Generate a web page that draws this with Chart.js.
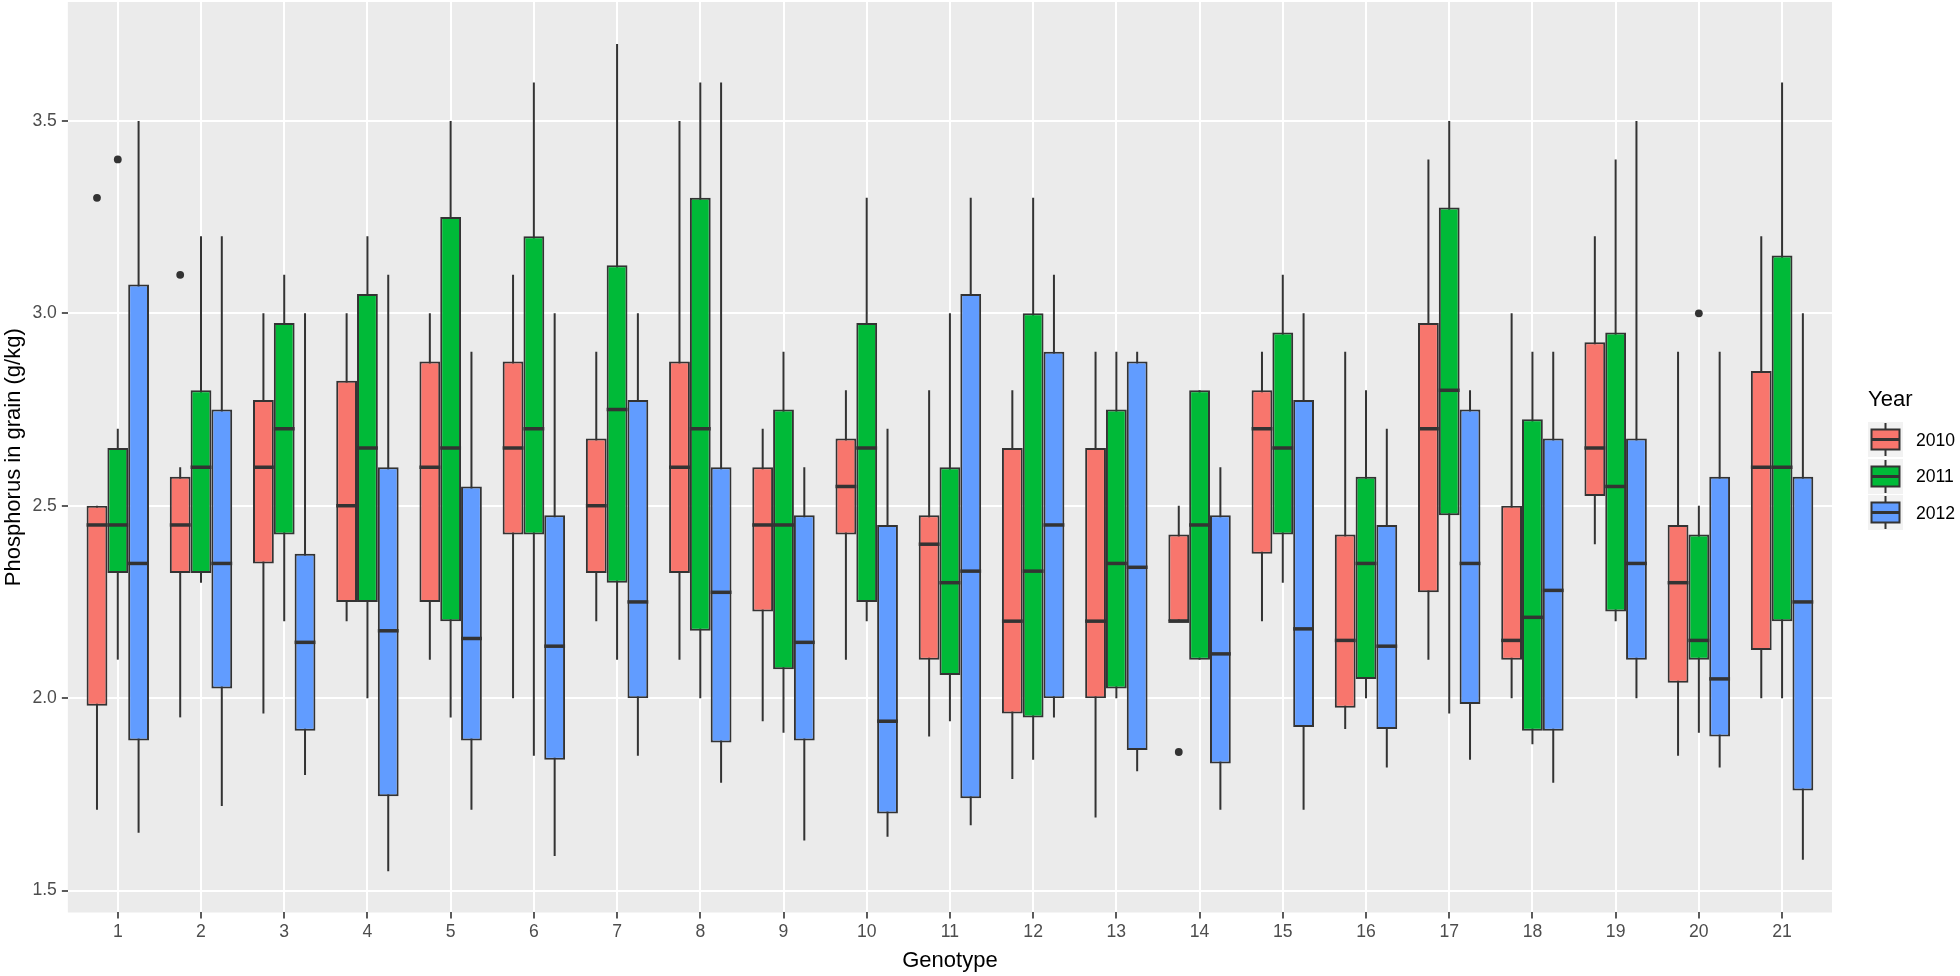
<!DOCTYPE html>
<html><head><meta charset="utf-8">
<script src="https://cdn.jsdelivr.net/npm/chart.js@4"></script>
<style>
html,body{margin:0;padding:0;background:#fff;}
#wrap{position:relative;width:1960px;height:976px;overflow:hidden;}
#c{position:absolute;left:0;top:0;}
.lg{position:absolute;font-family:"Liberation Sans",Arial,sans-serif;white-space:nowrap;}
</style></head>
<body>
<div id="wrap"><canvas id="c" width="1960" height="976"></canvas></div>
<script>
const genotypes = [1,2,3,4,5,6,7,8,9,10,11,12,13,14,15,16,17,18,19,20,21];
const years = ['2010','2011','2012'];
const yTicks = [1.5,1.75,2.0,2.25,2.5,2.75,3.0,3.25,3.5,3.75];

// 2010
const low2010 = [1.71,1.95,1.96,2.20,2.10,2.00,2.20,2.10,1.94,2.10,1.90,1.79,1.69,2.20,2.20,1.92,2.10,2.00,2.40,1.85,2.00];
const q1_2010 = [1.98,2.325,2.35,2.25,2.25,2.425,2.325,2.325,2.225,2.425,2.10,1.96,2.00,2.20,2.375,1.975,2.275,2.10,2.525,2.04,2.125];
const med2010 = [2.45,2.45,2.60,2.50,2.60,2.65,2.50,2.60,2.45,2.55,2.40,2.20,2.20,2.20,2.70,2.15,2.70,2.15,2.65,2.30,2.60];
const q3_2010 = [2.50,2.575,2.775,2.825,2.875,2.875,2.675,2.875,2.60,2.675,2.475,2.65,2.65,2.425,2.80,2.425,2.975,2.50,2.925,2.45,2.85];
const high2010 = [2.50,2.60,3.00,3.00,3.00,3.10,2.90,3.50,2.70,2.80,2.80,2.80,2.90,2.50,2.90,2.90,3.40,3.00,3.20,2.90,3.20];
const out2010 = [[1,3.30],[2,3.10],[14,1.86]];

// 2011
const low2011 = [2.10,2.30,2.20,2.00,1.95,1.85,2.10,2.00,1.91,2.20,1.94,1.84,2.00,2.10,2.30,2.00,1.96,1.88,2.20,1.91,2.00];
const q1_2011 = [2.325,2.325,2.425,2.25,2.20,2.425,2.30,2.175,2.075,2.25,2.06,1.95,2.025,2.10,2.425,2.05,2.475,1.915,2.225,2.10,2.20];
const med2011 = [2.45,2.60,2.70,2.65,2.65,2.70,2.75,2.70,2.45,2.65,2.30,2.33,2.35,2.45,2.65,2.35,2.80,2.21,2.55,2.15,2.60];
const q3_2011 = [2.65,2.80,2.975,3.05,3.25,3.20,3.125,3.30,2.75,2.975,2.60,3.00,2.75,2.80,2.95,2.575,3.275,2.725,2.95,2.425,3.15];
const high2011 = [2.70,3.20,3.10,3.20,3.50,3.60,3.70,3.60,2.90,3.30,3.00,3.30,2.90,2.80,3.10,2.80,3.50,2.90,3.40,2.50,3.60];
const out2011 = [[1,3.40],[20,3.00]];

// 2012
const low2012 = [1.65,1.72,1.80,1.55,1.71,1.59,1.85,1.78,1.63,1.64,1.67,1.95,1.81,1.71,1.71,1.82,1.84,1.78,2.00,1.82,1.58];
const q1_2012 = [1.89,2.025,1.915,1.745,1.89,1.84,2.00,1.885,1.89,1.70,1.74,2.00,1.865,1.83,1.925,1.92,1.985,1.915,2.10,1.90,1.76];
const med2012 = [2.35,2.35,2.145,2.175,2.155,2.135,2.25,2.275,2.145,1.94,2.33,2.45,2.34,2.115,2.18,2.135,2.35,2.28,2.35,2.05,2.25];
const q3_2012 = [3.075,2.75,2.375,2.60,2.55,2.475,2.775,2.60,2.475,2.45,3.05,2.90,2.875,2.475,2.775,2.45,2.75,2.675,2.675,2.575,2.575];
const high2012 = [3.50,3.20,3.00,3.10,2.90,3.00,3.00,3.60,2.60,2.70,3.30,3.10,2.90,2.60,3.00,2.70,2.80,2.90,3.50,2.90,3.00];
const out2012 = [];

const fills = ['#F8766D','#00BA38','#619CFF'];
const INK = '#333333';
const FONT = '"Liberation Sans", Arial, sans-serif';

const stats = [
  {low:low2010,q1:q1_2010,med:med2010,q3:q3_2010,high:high2010,out:out2010},
  {low:low2011,q1:q1_2011,med:med2011,q3:q3_2011,high:high2011,out:out2011},
  {low:low2012,q1:q1_2012,med:med2012,q3:q3_2012,high:high2012,out:out2012}
];

const datasets = years.map((yr, k) => ({
  label: yr,
  data: genotypes.map((g, i) => ({x: g, y: [stats[k].q1[i], stats[k].q3[i]]})),
  backgroundColor: fills[k],
  borderColor: INK,
  borderWidth: 2,
  borderSkipped: false,
  categoryPercentage: 0.75,
  barPercentage: 1.0,
  boxStats: stats[k]
}));

const isMajor = (v) => Math.abs(v * 2 - Math.round(v * 2)) < 1e-9;

const boxPlugin = {
  id: 'boxParts',
  beforeDraw(chart) {
    const {ctx, chartArea: a} = chart;
    ctx.save();
    ctx.fillStyle = '#EBEBEB';
    ctx.fillRect(a.left, a.top, a.right - a.left, a.bottom - a.top);
    ctx.restore();
  },
  beforeDatasetsDraw(chart) {
    const ctx = chart.ctx, ys = chart.scales.y;
    ctx.save();
    ctx.strokeStyle = INK; ctx.lineWidth = 2;
    chart.data.datasets.forEach((ds, k) => {
      const meta = chart.getDatasetMeta(k);
      meta.data.forEach((bar, i) => {
        ctx.beginPath();
        ctx.moveTo(bar.x, ys.getPixelForValue(ds.boxStats.low[i]));
        ctx.lineTo(bar.x, ys.getPixelForValue(ds.boxStats.high[i]));
        ctx.stroke();
      });
    });
    ctx.restore();
  },
  afterDatasetsDraw(chart) {
    const ctx = chart.ctx, ys = chart.scales.y;
    ctx.save();
    ctx.strokeStyle = INK; ctx.lineWidth = 3.5;
    chart.data.datasets.forEach((ds, k) => {
      const meta = chart.getDatasetMeta(k);
      meta.data.forEach((bar, i) => {
        const y = ys.getPixelForValue(ds.boxStats.med[i]);
        ctx.beginPath();
        ctx.moveTo(bar.x - bar.width / 2, y);
        ctx.lineTo(bar.x + bar.width / 2, y);
        ctx.stroke();
      });
      ctx.fillStyle = INK;
      ds.boxStats.out.forEach(([g, v]) => {
        const bar = meta.data[genotypes.indexOf(g)];
        ctx.beginPath();
        ctx.arc(bar.x, ys.getPixelForValue(v), 3.9, 0, Math.PI * 2);
        ctx.fill();
      });
    });
    ctx.restore();
  }
};

new Chart(document.getElementById('c'), {
  type: 'bar',
  data: {datasets},
  options: {
    responsive: false,
    animation: false,
    devicePixelRatio: 1,
    layout: {padding: {left: 1, right: 128, top: 2, bottom: 2}},
    plugins: {legend: {display: false}, tooltip: {enabled: false}},
    scales: {
      x: {
        type: 'linear',
        offset: false,
        min: 0.4, max: 21.6,
        afterBuildTicks: (axis) => { axis.ticks = genotypes.map(v => ({value: v})); },
        ticks: {font: {family: FONT, size: 17.6}, color: '#4D4D4D', padding: 3, maxRotation: 0, autoSkip: false,
                callback: (v) => String(v)},
        grid: {offset: false, color: '#FFFFFF', lineWidth: 2, tickColor: INK, tickLength: 6, tickWidth: 1.6},
        border: {display: false},
        title: {display: true, text: 'Genotype', color: '#000', font: {family: FONT, size: 22}, padding: {top: 2, bottom: 0}}
      },
      y: {
        type: 'linear',
        min: 1.443, max: 3.809,
        afterBuildTicks: (axis) => { axis.ticks = yTicks.map(v => ({value: v})); },
        afterFit: (axis) => { axis.paddingTop = 0; axis.paddingBottom = 0; },
        ticks: {font: {family: FONT, size: 17.6}, color: '#4D4D4D', padding: 5,
                callback: (v) => (isMajor(v) ? v.toFixed(1) : null)},
        grid: {
          color: '#FFFFFF',
          lineWidth: (c) => (isMajor(c.tick.value) ? 2 : 1),
          tickColor: (c) => (isMajor(c.tick.value) ? INK : 'rgba(0,0,0,0)'),
          tickLength: 6, tickWidth: 1.6
        },
        border: {display: false},
        title: {display: true, text: 'Phosphorus in grain (g/kg)', color: '#000', font: {family: FONT, size: 22}, padding: {top: 0, bottom: 0}}
      }
    }
  },
  plugins: [boxPlugin]
});

// Legend (HTML text + SVG keys)
const wrap = document.getElementById('wrap');
const title = document.createElement('div');
title.className = 'lg';
title.style.cssText = 'left:1868px;top:386px;font-size:22px;color:#000;';
title.textContent = 'Year';
wrap.appendChild(title);
years.forEach((yr, k) => {
  const top = 422 + k * 36.7;
  const key = document.createElementNS('http://www.w3.org/2000/svg', 'svg');
  key.setAttribute('width', '35'); key.setAttribute('height', '35');
  key.style.cssText = `position:absolute;left:1868px;top:${top}px;`;
  key.innerHTML = `<rect x="0" y="0" width="35" height="35" fill="#F2F2F2"/>
    <line x1="17.5" y1="1" x2="17.5" y2="34" stroke="${INK}" stroke-width="2"/>
    <rect x="3.5" y="7.5" width="28" height="20" fill="${fills[k]}" stroke="${INK}" stroke-width="2"/>
    <line x1="3.5" y1="17.5" x2="31.5" y2="17.5" stroke="${INK}" stroke-width="3"/>`;
  wrap.appendChild(key);
  const lab = document.createElement('div');
  lab.className = 'lg';
  lab.style.cssText = `left:1916px;top:${top + 17.5 - 11}px;font-size:17.6px;line-height:22px;color:#000;`;
  lab.textContent = yr;
  wrap.appendChild(lab);
});
</script>
</body></html>
